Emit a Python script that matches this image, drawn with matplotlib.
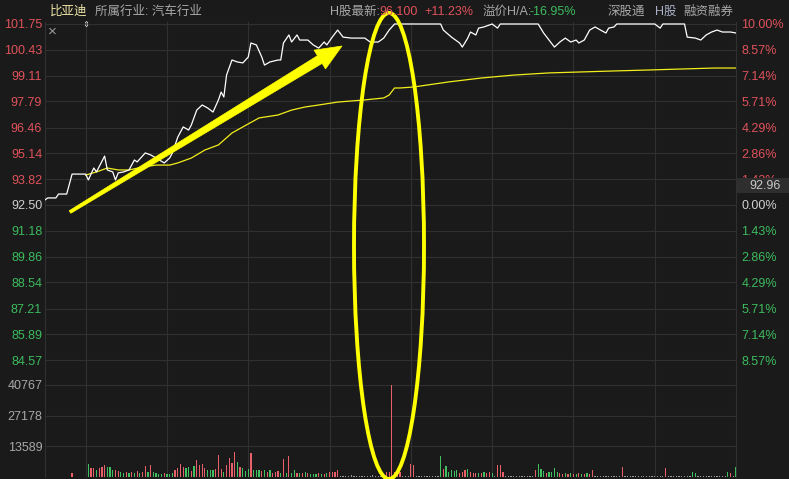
import numpy as np
import matplotlib.pyplot as plt
from matplotlib.patches import Ellipse, Polygon, Rectangle

plt.rcParams['font.family'] = ['Liberation Sans', 'Noto Sans CJK SC', 'DejaVu Sans']

# ---- data ----
prev_close = 92.50
price_ticks = [101.75, 100.43, 99.11, 97.79, 96.46, 95.14, 93.82, 92.50,
               91.18, 89.86, 88.54, 87.21, 85.89, 84.57]
pct_labels = ['10.00%', '8.57%', '7.14%', '5.71%', '4.29%', '2.86%', '1.43%', '0.00%',
              '1.43%', '2.86%', '4.29%', '5.71%', '7.14%', '8.57%']
vol_ticks = [13589, 27178, 40767]
time_grid = [15, 45, 75, 105, 135, 165, 195, 225]  # 9:30 ... 14:30 (minutes from 9:15)

# last price line (minute from 9:15, price)
price_min = [0, 1, 4, 5, 8, 10, 15,
             16, 18, 19, 22, 23, 25, 26, 27, 29, 31, 33, 34, 37, 39, 41, 44, 46, 47, 49, 51,
             53, 54, 56, 58, 60, 62, 64, 65, 66, 67, 69, 71, 73, 75, 76, 78, 80, 81, 83, 86,
             87, 88, 90, 91, 93, 94, 97, 99, 101, 103, 104, 106, 108, 110, 113, 118, 120, 123,
             125, 127, 129,
             146, 147, 150, 153, 154, 156, 157, 159, 160, 162, 165, 167, 168, 182, 184, 186,
             188, 190, 192, 194, 196, 197, 199, 201, 203, 205, 207, 208, 210, 211, 225, 227,
             228, 236, 237, 240, 242, 244, 246, 248, 250, 253, 255]
price = [92.76, 92.86, 92.86, 93.06, 93.06, 94.08, 94.08,
         93.78, 94.39, 94.19, 95.00, 94.29, 94.19, 93.78, 94.14, 94.19, 94.29, 94.80, 94.70,
         95.16, 95.06, 94.90, 94.65, 94.90, 95.16, 95.97, 96.49, 96.33, 96.59, 97.35, 97.61,
         97.46, 97.25, 97.87, 98.27, 98.02, 99.14, 99.91, 99.81, 99.76, 100.06, 100.78, 100.68,
         100.06, 99.65, 99.81, 99.91, 99.91, 100.78, 101.19, 100.83, 101.19, 100.93, 100.93,
         100.68, 100.52, 100.83, 100.68, 101.08, 101.44, 101.08, 101.03, 101.03, 100.83, 100.83,
         101.03, 101.44, 101.75,
         101.75, 101.44, 101.08, 100.78, 100.57, 101.03, 101.34, 101.19, 101.54, 101.60,
         101.75, 101.54, 101.75, 101.75, 101.29, 100.93, 100.57, 100.83, 101.03, 100.83,
         100.93, 100.78, 100.93, 101.44, 101.60, 101.44, 101.29, 101.54, 101.60, 101.75,
         101.75, 101.54, 101.75, 101.75, 101.08, 101.03, 100.93, 101.19, 101.34, 101.44,
         101.34, 101.34, 101.29]

# average price line
avg_min = [15, 19, 23, 27, 31, 36, 41, 46, 49, 54, 59, 64, 69, 73, 79, 86, 91, 96, 101, 108,
           118, 125, 127, 129, 131, 136, 149, 161, 173, 186, 198, 210, 223, 235, 247, 255]
avg_price = [94.03, 94.19, 94.39, 94.29, 94.29, 94.44, 94.54, 94.54, 94.65, 94.90,
             95.31, 95.57, 96.18, 96.49, 96.95, 97.10, 97.35, 97.51, 97.61, 97.76,
             97.87, 97.97, 98.12, 98.48, 98.48, 98.53, 98.79, 98.99, 99.14, 99.25,
             99.30, 99.35, 99.40, 99.45, 99.50, 99.50]

# volume, one bar per minute starting at minute 16; auction bar at minute 10
auction_min, auction_vol = 10, 1800
vol_start = 16
vol = [5700, 3900, 3800, 3100, 3900, 4600, 5300, 4400, 4400, 3100,
       3100, 2600, 2200, 1750, 2200, 1750, 2200, 1750, 2600, 1750,
       2200, 5000, 2200, 5300, 2200, 1750, 1300, 1300, 1750, 1300,
       1200, 1750, 3100, 3900, 5600, 4400, 3900, 4400, 2600, 4800,
       7400, 5300, 5600, 3900, 3100, 3100, 3100, 3500, 9900, 3500,
       2200, 5300, 8200, 6100, 11000, 6600, 4400, 3900, 2600, 3500,
       10500, 3100, 3100, 3100, 2600, 3100, 2200, 3100, 1750, 2200,
       2600, 1750, 7900, 1750, 9200, 1750, 3100, 1750, 1750, 1750,
       2200, 1750, 1300, 1300, 1300, 1750, 1300, 1300, 1750, 2200,
       2200, 2200, 3100, 500, 600, 400, 500, 700, 500, 400,
       500, 600, 500, 400, 500, 700, 500, 500, 600, 500,
       2200, 2200, 40767, 2200, 1300, 2200, 500, 500, 500, 5700,
       5500, 500, 400, 600, 500, 500, 400, 500, 600, 500,
       9200, 3500, 5000, 2200, 3100, 2600, 3100, 1750, 2200, 3100,
       3500, 2200, 1750, 1750, 1750, 1750, 2200, 1750, 2200, 1750,
       500, 5300, 5300, 2200, 500, 400, 500, 600, 500, 400,
       500, 600, 500, 500, 500, 3100, 5700, 3500, 2600, 1750,
       2200, 2200, 3900, 2200, 1750, 1300, 1750, 1300, 1750, 1300,
       1300, 1750, 1300, 1300, 1750, 1300, 3100, 500, 400, 500,
       600, 500, 500, 400, 500, 500, 500, 4400, 500, 400,
       500, 600, 500, 500, 400, 500, 500, 600, 500, 500,
       400, 500, 500, 3900, 500, 600, 500, 400, 500, 500,
       500, 600, 500, 2200, 1750, 500, 400, 500, 600, 500,
       500, 400, 500, 500, 600, 500, 2200, 1750, 500, 4400]
# u = up (red), d = down (green), f = flat
vol_dir = "".join([
    "duuduuuddd", "uuddududud", "uududdddud", "dduuuuddud", "uuuuddduuu",
    "duuuududdd", "udddududuu", "udududdudu", "dudddududu", "uuufffffff",
    "ffffffffff", "uuuuuufffu", "ufffffffff", "duddddduuu", "duuududuud",
    "fuuuffffff", "fffffudddu", "dddduududu", "dududuufff", "fffffffuff",
    "ffffffffff", "fffuffffff", "fffddfffff", "ffffffdufd"])

# ---- style ----
bg = '#1a1a1a'
grid_c = '#303030'
red = '#e0525a'
green = '#3dbb5e'
gray = '#a8a8a8'
dir_colors = {'u': '#e8606a', 'd': '#40c060', 'f': '#9a9a9a'}

W, H = 789, 479
fig = plt.figure(figsize=(W / 100, H / 100), dpi=100, facecolor=bg)

x0, x1 = 45, 736
ax = fig.add_axes([x0 / W, 1 - 386 / H, (x1 - x0) / W, 364 / H], facecolor=bg)
axv = fig.add_axes([x0 / W, 1 - 477 / H, (x1 - x0) / W, 93 / H], facecolor=bg)

for a in (ax, axv):
    a.set_xlim(0, 255)
    a.set_xticks(time_grid)
    a.tick_params(axis='x', length=0, labelbottom=False)
    a.grid(True, color=grid_c, lw=0.8)
    a.set_axisbelow(True)
    for s in ('top', 'bottom'):
        a.spines[s].set_visible(False)
    for s in ('left', 'right'):
        a.spines[s].set_color(grid_c)

# price panel
ax.set_ylim(83.25, 101.852)
ax.set_yticks(price_ticks)
ax.set_yticklabels([f'{p:.2f}' for p in price_ticks], fontsize=9)
ax.tick_params(axis='y', length=0, pad=2)
for p, lab in zip(price_ticks, ax.get_yticklabels()):
    lab.set_color(red if p > prev_close else (green if p < prev_close else '#d0d0d0'))

ax2 = ax.twinx()
ax2.set_ylim(ax.get_ylim())
ax2.set_yticks(price_ticks)
ax2.set_yticklabels(pct_labels, fontsize=9)
ax2.tick_params(axis='y', length=0, pad=4)
for s in ax2.spines.values():
    s.set_visible(False)
for p, lab in zip(price_ticks, ax2.get_yticklabels()):
    lab.set_color(red if p > prev_close else (green if p < prev_close else '#d0d0d0'))

ax.plot(price_min, price, color='white', lw=0.9, zorder=3)
ax.plot(avg_min, avg_price, color='#f2ee1a', lw=0.9, zorder=2)

# volume panel
vx = np.arange(vol_start, vol_start + len(vol))
axv.bar(vx, vol, width=0.45, color=[dir_colors[c] for c in vol_dir],
        antialiased=False, zorder=2)
axv.bar([auction_min], [auction_vol], width=0.45, color=dir_colors['u'],
        antialiased=False, zorder=2)
axv.set_ylim(0, 41200)
axv.set_yticks(vol_ticks)
axv.set_yticklabels([str(v) for v in vol_ticks], fontsize=9, color=gray)
axv.tick_params(axis='y', length=0, pad=2)

# ---- overlay (pixel coordinates) ----
ov = fig.add_axes([0, 0, 1, 1], facecolor='none', zorder=10)
ov.set_xlim(0, W)
ov.set_ylim(H, 0)
ov.axis('off')

# header
ov.text(50, 12, '比亚迪', color='#ece3a6', fontsize=9, va='center')
ov.text(95, 12, '所属行业: 汽车行业', color=gray, fontsize=9, va='center')
ov.text(330, 12, 'H股最新:', color=gray, fontsize=9, va='center')
ov.text(379, 12, '96.100', color=red, fontsize=9, va='center')
ov.text(424, 12, '+11.23%', color=red, fontsize=9, va='center')
ov.text(483, 12, '溢价H/A:', color=gray, fontsize=9, va='center')
ov.text(530, 12, '-16.95%', color=green, fontsize=9, va='center')
ov.text(608, 12, '深股通', color=gray, fontsize=9, va='center')
ov.text(655, 12, 'H股', color='#a8aec4', fontsize=9, va='center')
ov.text(683, 12, '融资融券', color=gray, fontsize=9, va='center')
ov.text(52, 32, '×', color='#9a9a9a', fontsize=11, ha='center', va='center')
ov.text(86, 25, '⇕', color='#d0d0d0', fontsize=6, ha='center', va='center')

# hover price box
ov.add_patch(Rectangle((737, 178), 52, 15, facecolor='#2e2e2e', edgecolor='none'))
ov.text(781, 186, '92.96', color='#c8c8c8', fontsize=9, ha='right', va='center')

# yellow annotations
yellow = '#ffff00'
tail = np.array([70.0, 212.0])
tip = np.array([342.0, 46.0])
u = (tip - tail) / np.linalg.norm(tip - tail)
n = np.array([-u[1], u[0]])
base = tip - 26 * u
arrow_pts = [tail + 1.5 * n, base + 4.5 * n, base + 11 * n, tip,
             base - 11 * n, base - 4.5 * n, tail - 1.5 * n]
ov.add_patch(Polygon(arrow_pts, closed=True, facecolor=yellow, edgecolor=yellow, lw=0.5))
ov.add_patch(Ellipse((389, 246), 70, 466, fill=False, edgecolor=yellow, lw=2.8))

fig.savefig('out.png', dpi=100, facecolor=bg)
